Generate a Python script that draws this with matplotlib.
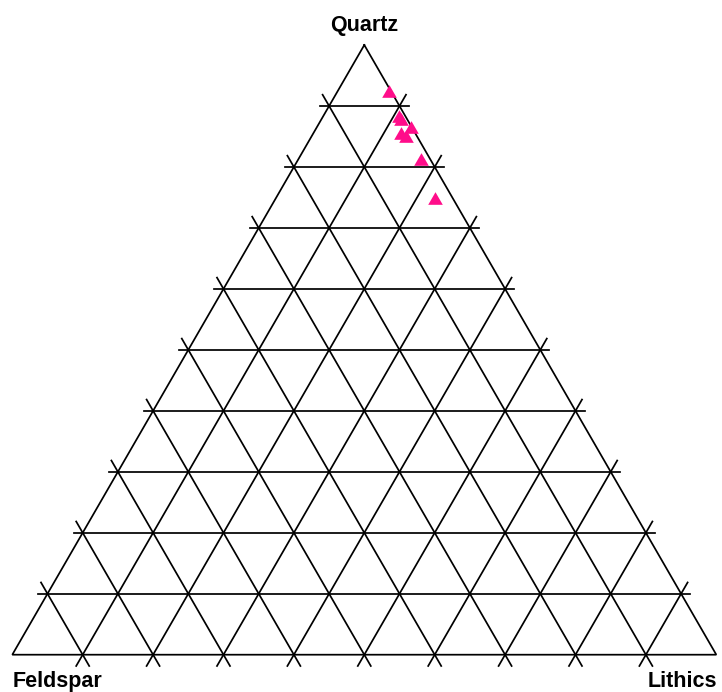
import numpy as np
import matplotlib
matplotlib.use("Agg")
import matplotlib.pyplot as plt

# QFL composition of the samples (percent)
quartz = [92.5, 88.4, 87.9, 86.6, 85.5, 85.0, 81.3, 74.9]
feldspar = [0.2, 0.8, 0.8, 0.0, 2.1, 1.6, 1.3, 2.5]
lithics = [100 - q - f for q, f in zip(quartz, feldspar)]

apex_labels = ["Quartz", "Feldspar", "Lithics"]
grid_steps = np.arange(1, 10) / 10.0

H = np.sqrt(3) / 2


def to_xy(q, f, l):
    """Ternary (Q top, F left, L right) to cartesian, side = 1."""
    q = np.asarray(q, float)
    l = np.asarray(l, float)
    tot = q + np.asarray(f, float) + l
    q, l = q / tot, l / tot
    return l + q / 2, q * H


def extended(p0, p1, ext):
    p0, p1 = np.array(p0), np.array(p1)
    d = (p1 - p0) / np.linalg.norm(p1 - p0)
    return np.vstack([p0 - d * ext, p1 + d * ext])


fig = plt.figure(figsize=(7.22, 6.92), dpi=100)
ax = fig.add_axes([0, 0, 1, 1])
ax.set_xlim(-0.01747, 1.00810)
ax.set_ylim(-0.05298, 0.92997)
ax.axis("off")

lw = 1.25
# outline
ox, oy = to_xy([1, 0, 0, 1], [0, 1, 0, 0], [0, 0, 1, 0])
ax.plot(ox, oy, color="black", lw=lw, solid_joinstyle="miter")

for t in grid_steps:
    # constant quartz (horizontal)
    seg = extended(to_xy(t, 1 - t, 0), to_xy(t, 0, 1 - t), 0.0128)
    ax.plot(seg[:, 0], seg[:, 1], color="black", lw=lw)
    # constant feldspar
    seg = extended(to_xy(1 - t, t, 0), to_xy(0, t, 1 - t), 0.0185)
    ax.plot(seg[:, 0], seg[:, 1], color="black", lw=lw)
    # constant lithics
    seg = extended(to_xy(1 - t, 0, t), to_xy(0, 1 - t, t), 0.0185)
    ax.plot(seg[:, 0], seg[:, 1], color="black", lw=lw)

tri = [(0, 0.433), (-0.5, -0.433), (0.5, -0.433)]
px, py = to_xy(quartz, feldspar, lithics)
ax.plot(px, py, linestyle="none", marker=tri, markersize=10.5,
        color="#ff0d8a", markeredgewidth=0, zorder=5)

font = dict(family=["Liberation Sans", "DejaVu Sans"], fontsize=15.5, fontweight="bold")
ax.text(0.5, 0.8864, apex_labels[0], ha="center", va="baseline", **font)
ax.text(0.0, -0.0455, apex_labels[1], ha="left", va="baseline", **font)
ax.text(1.0014, -0.0455, apex_labels[2], ha="right", va="baseline", **font)

fig.savefig("out.png", dpi=100)
